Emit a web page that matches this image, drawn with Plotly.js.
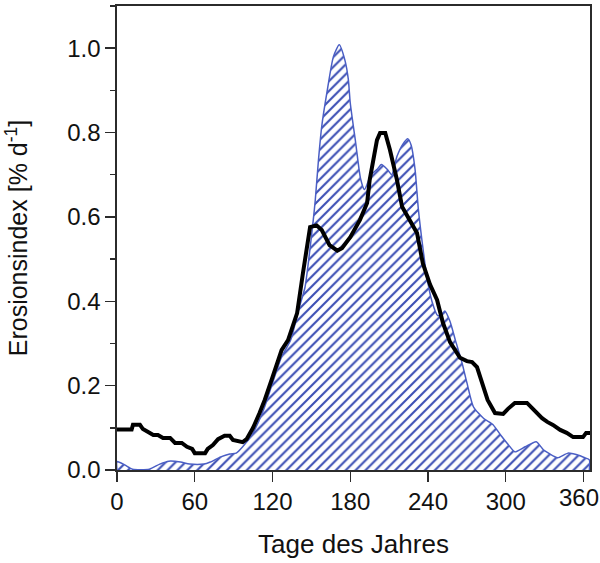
<!DOCTYPE html>
<html>
<head>
<meta charset="utf-8">
<script src="https://cdn.plot.ly/plotly-3.0.1.min.js"></script>
<style>html,body{margin:0;padding:0;background:#fff;}#chart{width:600px;height:563px;}</style>
</head>
<body>
<div id="chart"></div>
<script>
// Blue hatched area: erosion index (day of year, % per day)
var blueDays = [0, 6, 12, 25, 33, 40, 49, 56, 67, 72, 80, 87, 92, 97, 105, 113, 120, 127, 134, 140, 145, 148, 151.5, 153, 155.5, 158, 162, 167, 171.5, 176, 178.5, 180, 184, 188, 191, 196, 200.8, 204, 208.5, 212, 216, 220.5, 224.5, 227, 230, 232.5, 235.5, 239, 243, 247.5, 251, 253, 257, 261, 266, 270, 275, 283, 290, 296, 302, 307, 315, 323.5, 329, 333, 340, 348, 355, 361, 364.5];
var blueVals = [0.020, 0.012, 0.002, 0.002, 0.014, 0.021, 0.019, 0.014, 0.014, 0.019, 0.031, 0.038, 0.040, 0.055, 0.088, 0.142, 0.206, 0.268, 0.308, 0.379, 0.432, 0.50, 0.594, 0.64, 0.736, 0.815, 0.895, 0.98, 1.008, 0.97, 0.926, 0.87, 0.78, 0.69, 0.665, 0.70, 0.713, 0.724, 0.713, 0.70, 0.743, 0.772, 0.785, 0.77, 0.713, 0.62, 0.54, 0.46, 0.40, 0.366, 0.37, 0.377, 0.352, 0.309, 0.257, 0.207, 0.150, 0.122, 0.108, 0.083, 0.060, 0.043, 0.055, 0.067, 0.048, 0.040, 0.029, 0.040, 0.036, 0.029, 0.024];

// Black stepped line
var blackDays = [0, 11.3, 12.3, 17.7, 20, 24, 28, 31.6, 35.5, 41, 44.8, 50, 54, 58, 60, 68, 70, 74, 78, 83, 87, 89.5, 97, 100, 105, 110, 114, 120, 127, 132, 139, 143.5, 147, 149, 154, 158, 164, 170, 173.6, 180, 187.5, 193, 195, 200.6, 203, 207, 210.6, 216, 220, 226, 231.5, 236, 241.5, 247, 251.5, 257, 264.7, 270, 274, 277.8, 281.7, 286, 291.7, 298, 301.7, 307, 316.4, 320, 324, 328, 332, 336.4, 342, 347, 352, 359.6, 362, 365];
var blackVals = [0.096, 0.096, 0.107, 0.107, 0.097, 0.090, 0.083, 0.083, 0.076, 0.076, 0.064, 0.064, 0.055, 0.050, 0.040, 0.040, 0.050, 0.059, 0.073, 0.081, 0.081, 0.071, 0.066, 0.073, 0.100, 0.135, 0.166, 0.220, 0.284, 0.308, 0.372, 0.467, 0.545, 0.576, 0.580, 0.569, 0.533, 0.520, 0.526, 0.552, 0.593, 0.633, 0.688, 0.782, 0.799, 0.799, 0.759, 0.688, 0.624, 0.593, 0.562, 0.49, 0.44, 0.403, 0.349, 0.303, 0.266, 0.258, 0.256, 0.244, 0.206, 0.166, 0.135, 0.133, 0.145, 0.159, 0.159, 0.147, 0.135, 0.123, 0.114, 0.107, 0.095, 0.088, 0.078, 0.078, 0.088, 0.088];

var xTicks = [0, 60, 120, 180, 240, 300, 360];
var yTicks = [0, 0.2, 0.4, 0.6, 0.8, 1.0];

// closed polygon down to the baseline
var polyX = [blueDays[0]].concat(blueDays, [blueDays[blueDays.length - 1]]);
var polyY = [0].concat(blueVals, [0]);

var FONT = 'Liberation Sans, Arial, Helvetica, sans-serif';
var AX = '#2b2b2b';

// last tick label sits against the right edge of the figure, so its label is
// drawn as an annotation nudged left (as in the original) instead of being clipped
var lastTick = xTicks[xTicks.length - 1];
var mainTicks = xTicks.slice(0, xTicks.length - 1);

var traces = [
  {
    x: polyX, y: polyY, type: 'scatter', mode: 'lines',
    fill: 'toself', fillcolor: 'rgba(0,0,0,0)',
    fillpattern: {shape: '/', size: 7, solidity: 0.3, fgcolor: '#3c4fb4', bgcolor: 'rgba(255,255,255,0)'},
    line: {color: '#4a5ec4', width: 1.5, shape: 'spline', smoothing: 0.6},
    hoverinfo: 'skip', showlegend: false
  },
  {
    x: blackDays, y: blackVals, type: 'scatter', mode: 'lines',
    line: {color: '#000', width: 4, shape: 'linear'},
    showlegend: false
  }
];

var layout = {
  width: 600, height: 563,
  margin: {l: 117, r: 10, t: 6, b: 93},
  paper_bgcolor: '#fff', plot_bgcolor: '#fff',
  font: {family: FONT, color: '#111', size: 24},
  xaxis: {
    range: [0, 365], tickvals: mainTicks, ticktext: mainTicks.map(String),
    ticks: 'outside', ticklen: 10, tickwidth: 1.4, tickcolor: AX,
    minor: {tickvals: [lastTick], ticks: 'outside', ticklen: 10, tickwidth: 1.4, tickcolor: AX, showgrid: false},
    showline: true, linecolor: AX, linewidth: 1.6, mirror: true,
    showgrid: false, zeroline: false, layer: 'below traces',
    tickfont: {family: FONT, size: 24, color: '#111'},
    title: {text: 'Tage des Jahres', font: {family: FONT, size: 26, color: '#111'}, standoff: 20}
  },
  yaxis: {
    range: [0, 1.1], tickvals: yTicks, tickformat: '.1f',
    ticks: 'outside', ticklen: 10, tickwidth: 1.4, tickcolor: AX,
    minor: {dtick: 0.1, tick0: 0, ticks: 'outside', ticklen: 5, tickwidth: 1.4, tickcolor: AX, showgrid: false},
    showline: true, linecolor: AX, linewidth: 1.6, mirror: true,
    showgrid: false, zeroline: false,
    tickfont: {family: FONT, size: 24, color: '#111'},
    title: {text: 'Erosionsindex [% d<sup>-1</sup>]', font: {family: FONT, size: 25, color: '#111'}, standoff: 32}
  },
  annotations: [{
    x: lastTick, xref: 'x', y: 0, yref: 'paper',
    xanchor: 'center', yanchor: 'top', xshift: -5, yshift: -12,
    text: String(lastTick), showarrow: false,
    font: {family: FONT, size: 24, color: '#111'}
  }]
};

Plotly.newPlot('chart', traces, layout, {displayModeBar: false, staticPlot: true});
</script>
</body>
</html>
